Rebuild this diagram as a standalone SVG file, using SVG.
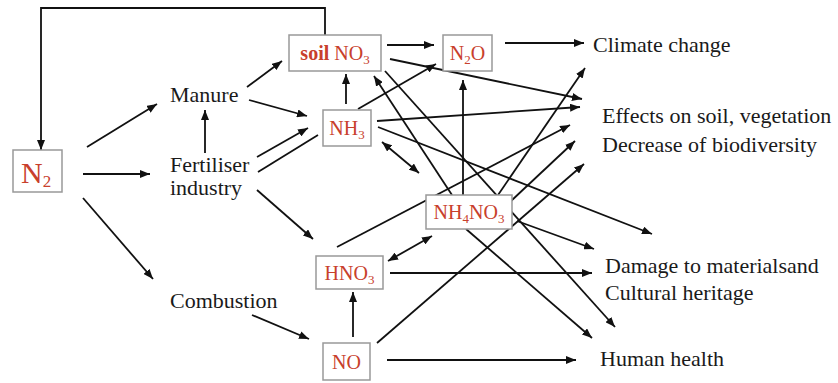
<svg xmlns="http://www.w3.org/2000/svg" width="838" height="383" viewBox="0 0 838 383">
<defs>
<marker id="ah" viewBox="0 0 10 8" refX="10" refY="4" markerWidth="10" markerHeight="8" markerUnits="userSpaceOnUse" orient="auto-start-reverse">
<path d="M0,0 L10,4 L0,8 z" fill="#111"/>
</marker>
<style>
.c line, .c polyline { stroke:#111; stroke-width:1.8; fill:none; }
.a { marker-end:url(#ah); }
.b { marker-start:url(#ah); marker-end:url(#ah); }
.box { fill:#fff; stroke:#999; stroke-width:1.5; }
text { font-family:'Liberation Serif','DejaVu Serif','Noto Serif',serif; }
.red { fill:#c8402c; font-size:20px; }
.lbl { fill:#1a1a1a; font-size:22px; }
</style>
</defs>
<rect width="838" height="383" fill="#fff"/>
<g id="connectors" class="c">
<polyline class="a" points="325,35 325,8 41,8 41,150"/>
<line class="a" x1="87" y1="147" x2="157" y2="104"/>
<line class="a" x1="83" y1="174" x2="150" y2="174"/>
<line class="a" x1="83" y1="198" x2="153" y2="279"/>
<line class="a" x1="205" y1="153" x2="205" y2="110"/>
<line class="a" x1="247" y1="87" x2="282" y2="61"/>
<line class="a" x1="249" y1="100" x2="307" y2="116"/>
<line class="a" x1="257" y1="157" x2="308" y2="128"/>
<line x1="258" y1="172" x2="318" y2="135"/>
<line class="a" x1="257" y1="190" x2="313" y2="239"/>
<line class="a" x1="252" y1="315" x2="309" y2="339"/>
<line class="a" x1="353" y1="337" x2="353" y2="292"/>
<line class="a" x1="346" y1="104" x2="346" y2="74"/>
<line class="a" x1="387" y1="45" x2="434" y2="45"/>
<line class="a" x1="505" y1="43" x2="584" y2="43"/>
<line class="a" x1="358" y1="109" x2="436" y2="64"/>
<line class="a" x1="390" y1="59" x2="582" y2="99"/>
<line class="a" x1="377" y1="121" x2="580" y2="107"/>
<line class="a" x1="378" y1="127" x2="652" y2="234"/>
<line class="a" x1="385" y1="71" x2="615" y2="327"/>
<line class="a" x1="452" y1="195" x2="374" y2="76"/>
<line class="b" x1="382" y1="142" x2="419" y2="173"/>
<line class="a" x1="463" y1="195" x2="463" y2="80"/>
<line class="a" x1="498" y1="195" x2="585" y2="68"/>
<line class="a" x1="511" y1="201" x2="575" y2="141"/>
<line class="a" x1="337" y1="247" x2="570" y2="125"/>
<line class="b" x1="388" y1="261" x2="432" y2="236"/>
<line class="a" x1="390" y1="273" x2="592" y2="273"/>
<line class="a" x1="517" y1="221" x2="594" y2="249"/>
<line class="a" x1="466" y1="229" x2="592" y2="338"/>
<line class="a" x1="377" y1="343" x2="584" y2="164"/>
<line class="a" x1="387" y1="360" x2="576" y2="360"/>
</g>
<g id="n2">
<rect class="box" x="13" y="150" width="49" height="42"/>
<text class="red" x="21" y="183" style="font-size:30px">N<tspan style="font-size:17px" dy="4">2</tspan></text>
</g>
<g id="soilno3">
<rect class="box" x="289" y="35" width="92" height="36"/>
<text class="red" x="335" y="60" text-anchor="middle"><tspan font-weight="bold">soil</tspan> NO<tspan style="font-size:13px" dy="4">3</tspan></text>
</g>
<g id="n2o">
<rect class="box" x="443" y="35" width="49" height="36"/>
<text class="red" x="467.5" y="60" text-anchor="middle">N<tspan style="font-size:13px" dy="4">2</tspan><tspan dy="-4">O</tspan></text>
</g>
<g id="nh3">
<rect class="box" x="323" y="110" width="48" height="36"/>
<text class="red" x="347" y="135" text-anchor="middle">NH<tspan style="font-size:13px" dy="4">3</tspan></text>
</g>
<g id="nh4no3">
<rect class="box" x="426" y="195" width="86" height="34"/>
<text class="red" x="469" y="219" text-anchor="middle">NH<tspan style="font-size:13px" dy="4">4</tspan><tspan dy="-4">NO</tspan><tspan style="font-size:13px" dy="4">3</tspan></text>
</g>
<g id="hno3">
<rect class="box" x="316" y="256" width="67" height="33"/>
<text class="red" x="349.5" y="280" text-anchor="middle">HNO<tspan style="font-size:13px" dy="4">3</tspan></text>
</g>
<g id="no">
<rect class="box" x="323" y="343" width="47" height="37"/>
<text class="red" x="346.5" y="369" text-anchor="middle">NO</text>
</g>
<g id="manure"><text class="lbl" x="170" y="102">Manure</text></g>
<g id="fertiliser"><text class="lbl" x="170" y="172">Fertiliser</text><text class="lbl" x="170" y="195">industry</text></g>
<g id="combustion"><text class="lbl" x="170" y="308">Combustion</text></g>
<g id="climate"><text class="lbl" x="593" y="52">Climate change</text></g>
<g id="effects"><text class="lbl" x="602" y="123">Effects on soil, vegetation</text><text class="lbl" x="602" y="152">Decrease of biodiversity</text></g>
<g id="damage"><text class="lbl" x="605" y="273">Damage to materialsand</text><text class="lbl" x="605" y="300">Cultural heritage</text></g>
<g id="health"><text class="lbl" x="600" y="366">Human health</text></g>
</svg>
